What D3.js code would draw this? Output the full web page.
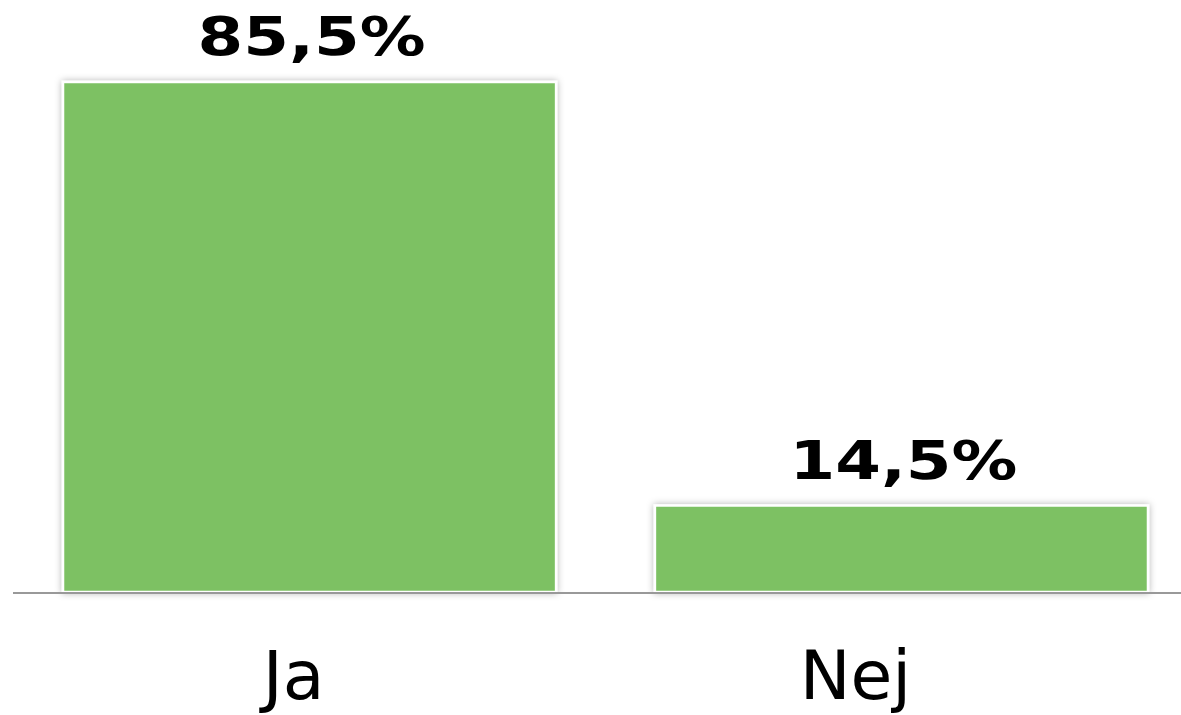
<!DOCTYPE html>
<html>
<head>
<meta charset="utf-8">
<script src="https://cdn.jsdelivr.net/npm/d3@7"></script>
<style>
  html, body { margin: 0; padding: 0; background: #fff; }
  svg { display: block; }
</style>
</head>
<body>
<svg id="chart" width="1181" height="715"></svg>
<script>
var categories = ["Ja", "Nej"];
var values = [85.5, 14.5];
var valueLabels = ["85,5%", "14,5%"];

var svg = d3.select("#chart"),
    width = +svg.attr("width"),
    height = +svg.attr("height");

var baseY = 592;

var x = d3.scaleBand()
    .domain(categories)
    .range([13, 1198])
    .paddingInner(0.167)
    .paddingOuter(0.0845);

var y = d3.scaleLinear()
    .domain([0, 100])
    .range([baseY, baseY - 596.5]);

var defs = svg.append("defs");
var f = defs.append("filter")
    .attr("id", "shadow")
    .attr("x", "-10%").attr("y", "-10%")
    .attr("width", "120%").attr("height", "120%");
f.append("feDropShadow")
    .attr("dx", 0).attr("dy", 0)
    .attr("stdDeviation", 3.5)
    .attr("flood-color", "#000")
    .attr("flood-opacity", 0.3);

// bars
svg.append("g").selectAll("rect")
    .data(values)
  .enter().append("rect")
    .attr("x", function (d, i) { return x(categories[i]); })
    .attr("y", function (d) { return y(d); })
    .attr("width", x.bandwidth())
    .attr("height", function (d) { return baseY - y(d); })
    .attr("fill", "#7DC163")
    .attr("stroke", "#fff")
    .attr("stroke-width", 2.5)
    .attr("filter", "url(#shadow)");

// baseline
svg.append("line")
    .attr("x1", 13).attr("x2", width)
    .attr("y1", baseY + 1).attr("y2", baseY + 1)
    .attr("stroke", "#999")
    .attr("stroke-width", 2);

// value labels
svg.append("g").selectAll("text")
    .data(values)
  .enter().append("text")
    .attr("x", function (d, i) { return x(categories[i]) + x.bandwidth() / 2 + 2; })
    .attr("y", function (d) { return y(d) - 27; })
    .attr("text-anchor", "middle")
    .attr("font-family", "DejaVu Sans, Verdana, sans-serif")
    .attr("font-weight", "bold")
    .attr("font-size", 54)
    .attr("textLength", 228)
    .attr("lengthAdjust", "spacingAndGlyphs")
    .attr("fill", "#000")
    .text(function (d, i) { return valueLabels[i]; });

// category labels
var catShift = [-16, -46];
svg.append("g").selectAll("text")
    .data(categories)
  .enter().append("text")
    .attr("x", function (d, i) { return x(d) + x.bandwidth() / 2 + catShift[i]; })
    .attr("y", 699)
    .attr("text-anchor", "middle")
    .attr("font-family", "DejaVu Sans, Verdana, sans-serif")
    .attr("font-size", 68)
    .attr("fill", "#000")
    .text(function (d) { return d; });
</script>
</body>
</html>
